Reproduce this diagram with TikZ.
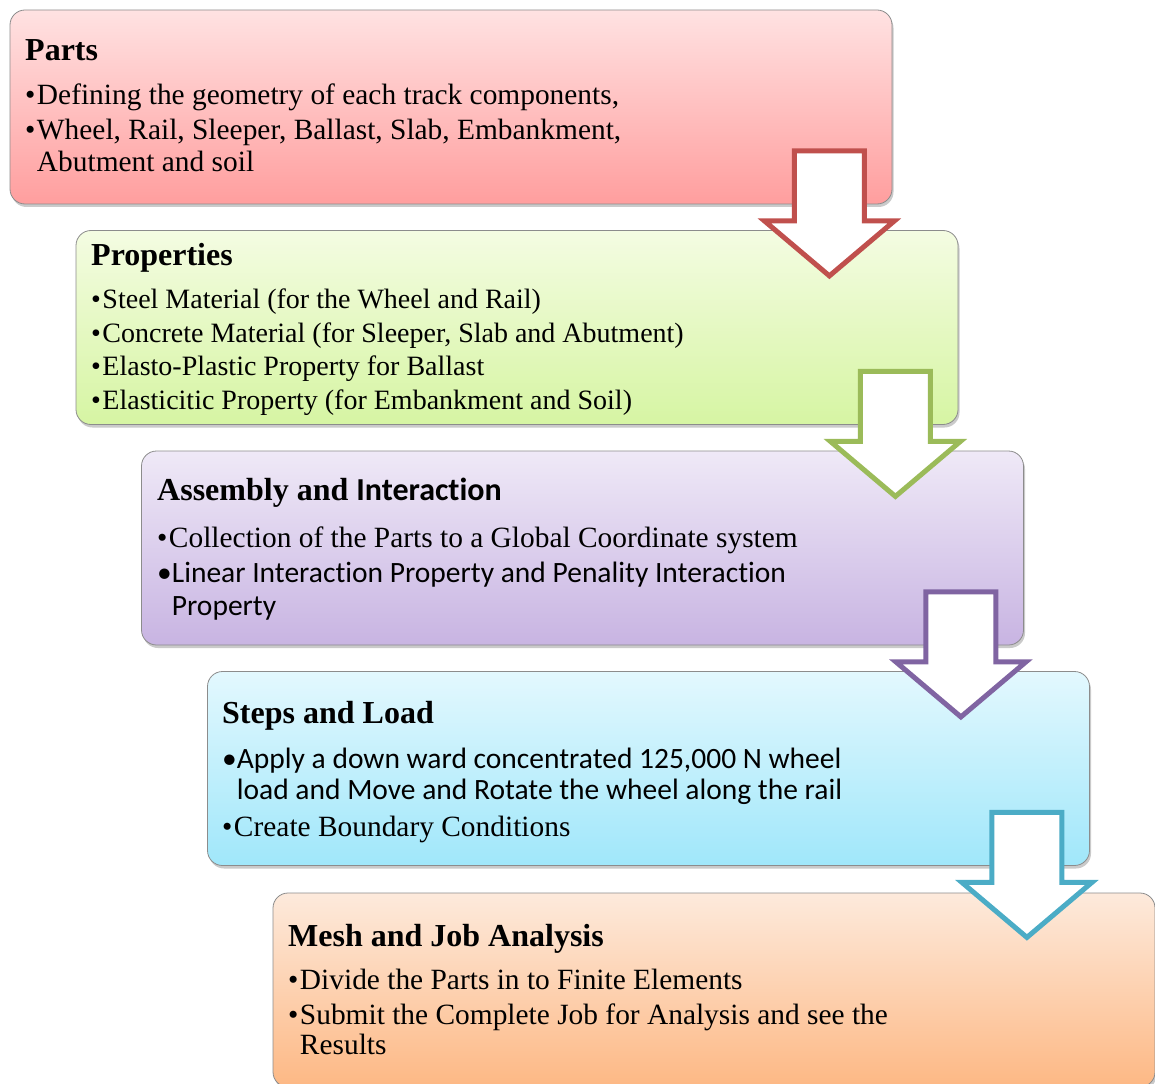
\documentclass[tikz,border=0pt]{standalone}
\usepackage{fontspec}
\setmainfont{Liberation Serif}
\newfontfamily\calfont[Ligatures=NoCommon]{Carlito}
\usetikzlibrary{shadows}
\definecolor{redA}{HTML}{C0504D}
\definecolor{greenA}{HTML}{9BBB59}
\definecolor{purpleA}{HTML}{8064A2}
\definecolor{tealA}{HTML}{4BACC6}
\tikzset{
  box/.style={rectangle, rounded corners=15pt, draw=black!45, line width=0.8pt,
    minimum width=882pt, minimum height=194pt, inner sep=0pt,
    drop shadow={shadow xshift=1.5pt, shadow yshift=-3pt, opacity=0.35, fill=black!60}},
  blockarrow/.style={draw=#1, line width=5pt, fill=white, line join=miter},
  ttl/.style={anchor=base west, inner sep=0pt, font=\fontsize{32}{35}\selectfont\bfseries},
  txt/.style={anchor=base west, inner sep=0pt, font=\fontsize{29.4}{32}\selectfont},
  stxt/.style={anchor=base west, inner sep=0pt, font=\fontsize{28}{31}\selectfont},
  ctxt/.style={anchor=base west, inner sep=0pt, font=\fontsize{29.5}{32}\selectfont\calfont},
}
\newcommand\arrowpath{(-98,-53.5) -- (-28,-53.5) -- (-28,16.5) -- (2,16.5) -- (-63,71.5) -- (-128,16.5) -- (-98,16.5) -- cycle}
\newcommand\bul{•\hspace{1.5pt}}
\newcommand\nobul{\phantom{•}\hspace{1.5pt}}
\begin{document}
\begin{tikzpicture}[x=1pt,y=-1pt]
\useasboundingbox (0,0) rectangle (1155,1083);
\clip (0,0) rectangle (1155,1083);
% boxes and arrows
\node[box, top color={rgb,255:red,255;green,226;blue,226}, bottom color={rgb,255:red,255;green,158;blue,158}] (b1) at (451,107) {};
\node[box, top color={rgb,255:red,244;green,252;blue,226}, bottom color={rgb,255:red,214;green,245;blue,163}] (b2) at (517,327.5) {};
\draw[blockarrow=redA, shift={(b1.south east)}] \arrowpath;
\node[box, top color={rgb,255:red,239;green,233;blue,247}, bottom color={rgb,255:red,200;green,180;blue,226}] (b3) at (582.5,548) {};
\draw[blockarrow=greenA, shift={(b2.south east)}] \arrowpath;
\node[box, top color={rgb,255:red,227;green,248;blue,254}, bottom color={rgb,255:red,160;green,231;blue,250}] (b4) at (648.5,768.5) {};
\draw[blockarrow=purpleA, shift={(b3.south east)}] \arrowpath;
\node[box, top color={rgb,255:red,253;green,234;blue,220}, bottom color={rgb,255:red,253;green,184;blue,132}] (b5) at (714,990) {};
\draw[blockarrow=tealA, shift={(b4.south east)}] \arrowpath;
% texts box 1
\node[ttl] (t1) at (25,61) {Parts};
\node[txt] (t1a) at (25,105) {\bul Defining the geometry of each track components,};
\node[txt] (t1b) at (25,140) {\bul Wheel, Rail, Sleeper, Ballast, Slab, Embankment,};
\node[txt] (t1c) at (25,172) {\nobul Abutment and soil};
% box 2
\node[ttl] (t2) at (91,265) {Properties};
\node[stxt] (t2a) at (91,308) {\bul Steel Material (for the Wheel and Rail)};
\node[stxt] (t2b) at (91,342) {\bul Concrete Material (for Sleeper, Slab and Abutment)};
\node[stxt] (t2c) at (91,375) {\bul Elasto-Plastic Property for Ballast};
\node[stxt] (t2d) at (91,409) {\bul Elasticitic Property (for Embankment and Soil)};
% box 3
\node[ttl] (t3) at (157,500) {Assembly and {\calfont Interaction}};
\node[txt] (t3a) at (157,547) {\bul Collection of the Parts to a Global Coordinate system};
\node[ctxt] (t3b) at (157,582) {•Linear Interaction Property and Penality Interaction};
\node[ctxt] (t3c) at (157,615) {\phantom{•}Property};
% box 4
\node[ttl] (t4) at (222,723) {Steps and Load};
\node[ctxt] (t4a) at (222,768) {•Apply a down ward concentrated 125,000 N wheel};
\node[ctxt] (t4b) at (222,799) {\phantom{•}load and Move and Rotate the wheel along the rail};
\node[txt] (t4c) at (222,836) {\bul Create Boundary Conditions};
% box 5
\node[ttl] (t5) at (288,946) {Mesh and Job Analysis};
\node[txt] (t5a) at (288,989) {\bul Divide the Parts in to Finite Elements};
\node[txt] (t5b) at (288,1024) {\bul Submit the Complete Job for Analysis and see the};
\node[txt] (t5c) at (288,1054) {\nobul Results};
\end{tikzpicture}
\end{document}
